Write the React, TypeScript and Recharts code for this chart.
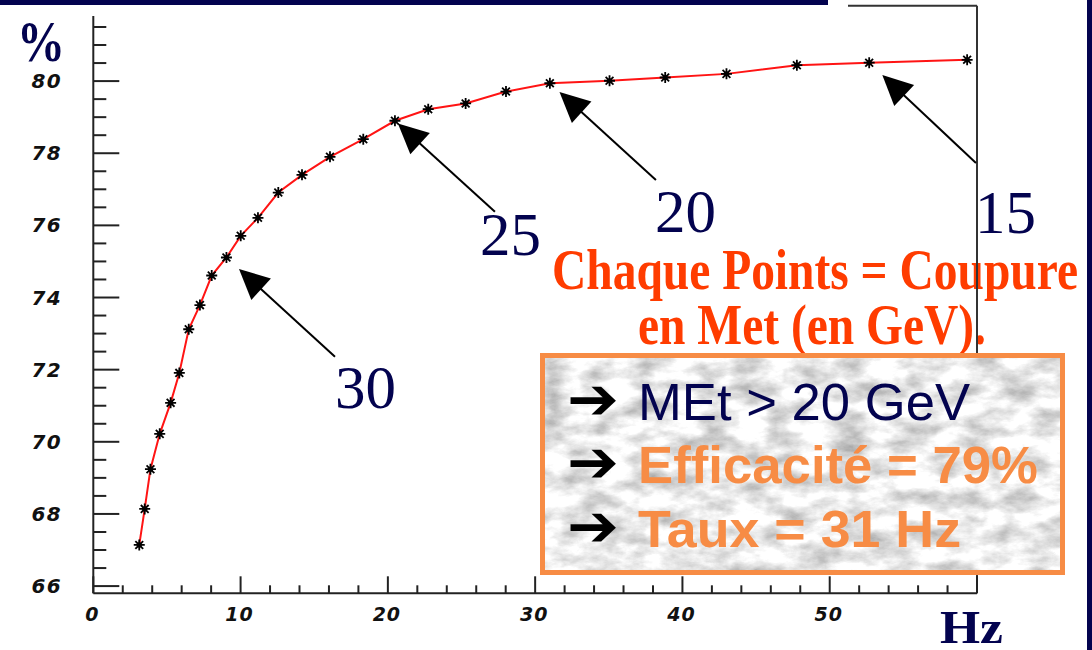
import React from 'react';
import { LineChart, Line, XAxis, YAxis, ReferenceLine } from 'recharts';

// Trigger rate (Hz) and efficiency (%) for each MET cut
const rateHz = [
  3.12, 3.49, 3.88, 4.51, 5.25, 5.84, 6.48, 7.24, 8.04, 9.04, 10.01, 11.18, 12.56, 14.17,
  16.07, 18.33, 20.48, 22.74, 25.28, 28.02, 31.0, 35.05, 38.83, 42.99, 47.77, 52.68, 59.33,
];
const efficiency = [
  67.14, 68.14, 69.24, 70.22, 71.08, 71.91, 73.12, 73.79, 74.61, 75.11, 75.71, 76.21, 76.91, 77.4,
  77.9, 78.39, 78.9, 79.22, 79.38, 79.71, 79.94, 80.01, 80.1, 80.2, 80.44, 80.51, 80.59,
];

// Axis ticks
const xTicks = [0, 2, 4, 6, 8, 10, 12, 14, 16, 18, 20, 22, 24, 26, 28, 30, 32, 34, 36, 38, 40, 42, 44, 46, 48, 50, 52, 54, 56, 58, 60];
const yTicks = [
  66, 66.5, 67, 67.5, 68, 68.5, 69, 69.5, 70, 70.5, 71, 71.5, 72, 72.5, 73, 73.5, 74, 74.5, 75, 75.5,
  76, 76.5, 77, 77.5, 78, 78.5, 79, 79.5, 80, 80.5, 81, 81.5, 82,
];
const X_DOMAIN: [number, number] = [0, 60];
const Y_DOMAIN: [number, number] = [65.8, 82.09];

// Annotated cuts (GeV) and the point each arrow targets
const cutLabels = ['30', '25', '20', '15'];
const cutPointIndex = [9, 16, 20, 25];
const arrowTailRate = [16.41, 27.27, 38.2, 59.93];
const arrowTailEff = [72.36, 76.38, 77.26, 77.73];
const arrowGap = [17, 4, 13, 18];
const cutLabelPos = [
  { x: 335, y: 408 },
  { x: 480, y: 255 },
  { x: 655, y: 232 },
  { x: 975, y: 233 },
];

const data = rateHz.map((r, i) => ({ rate: r, eff: efficiency[i] }));

const NAVY = '#03034f';
const ORANGE = '#f78c45';
const RED_TEXT = '#ff3c00';
const AXIS = '#222';

const StarDot = (props: any) => {
  const { cx, cy, index } = props;
  if (cx == null || cy == null) return null;
  const r = 5.5;
  const d = 3.9;
  return (
    <g key={`dot-${index}`} stroke="#000" strokeWidth={1.8}>
      <line x1={cx - r} y1={cy} x2={cx + r} y2={cy} />
      <line x1={cx} y1={cy - r} x2={cx} y2={cy + r} />
      <line x1={cx - d} y1={cy - d} x2={cx + d} y2={cy + d} />
      <line x1={cx - d} y1={cy + d} x2={cx + d} y2={cy - d} />
      <circle cx={cx} cy={cy} r={2.6} fill="#000" stroke="none" />
    </g>
  );
};

const tickFont = {
  fontFamily: '"DejaVu Sans", sans-serif',
  fontWeight: 700,
  fontStyle: 'italic' as const,
  fill: '#111',
};

const YTick = (props: any) => {
  const { x, y, payload } = props;
  const v = Number(payload.value);
  const major = Math.abs(v % 2) < 1e-6;
  return (
    <g>
      <line x1={x} y1={y} x2={x + (major ? 26 : 13)} y2={y} stroke={AXIS} strokeWidth={2} />
      {major && v < 82 && (
        <text x={x - 31} y={y + 7} textAnchor="end" letterSpacing={1.5} fontSize={20} {...tickFont}>
          {v}
        </text>
      )}
    </g>
  );
};

const XTick = (props: any) => {
  const { x, y, payload } = props;
  const v = Number(payload.value);
  const major = v % 10 === 0;
  return (
    <g>
      <line x1={x} y1={y} x2={x} y2={y - (major ? 17 : 8)} stroke={AXIS} strokeWidth={2} />
      {major && v < 60 && (
        <text x={x - 1} y={y + 28} textAnchor="middle" letterSpacing={1} fontSize={19} {...tickFont}>
          {v}
        </text>
      )}
    </g>
  );
};

// Arrow from the label towards a data point, stopping a little short of it
const makeArrow = (gap: number) => (p: any) => {
  const { x1, y1, x2, y2 } = p;
  const dx = x2 - x1;
  const dy = y2 - y1;
  const len = Math.sqrt(dx * dx + dy * dy) || 1;
  const ux = dx / len;
  const uy = dy / len;
  const tipX = x2 - ux * gap;
  const tipY = y2 - uy * gap;
  const headLen = 30;
  const headHalf = 14.5;
  const bx = tipX - ux * headLen;
  const by = tipY - uy * headLen;
  const nx = -uy;
  const ny = ux;
  return (
    <g>
      <line x1={x1} y1={y1} x2={bx + ux * 4} y2={by + uy * 4} stroke="#000" strokeWidth={2} />
      <polygon
        points={`${tipX},${tipY} ${bx + nx * headHalf},${by + ny * headHalf} ${bx - nx * headHalf},${by - ny * headHalf}`}
        fill="#000"
      />
    </g>
  );
};

const serif = '"Liberation Serif", "Times New Roman", serif';
const sans = '"Liberation Sans", Arial, sans-serif';

const BoxRow = ({ y, text, color, bold, length }: { y: number; text: string; color: string; bold: boolean; length: number }) => (
  <g>
    <text
      x={567}
      y={y - 1}
      fontFamily='"DejaVu Sans", sans-serif'
      fontSize={58}
      fontWeight={700}
      fill="#000"
      textLength={52}
      lengthAdjust="spacingAndGlyphs"
    >
      ➔
    </text>
    <text
      x={638}
      y={y}
      fontFamily={sans}
      fontSize={52}
      fontWeight={bold ? 700 : 400}
      fill={color}
      textLength={length}
      lengthAdjust="spacingAndGlyphs"
    >
      {text}
    </text>
  </g>
);

export default function App() {
  return (
    <div style={{ position: 'absolute', left: 0, top: 0, width: 1092, height: 650, background: '#fff', overflow: 'hidden' }}>
      {/* caption behind the plot frame */}
      <svg width={1092} height={650} style={{ position: 'absolute', left: 0, top: 0 }}>
        <text x={552} y={289} fontFamily={serif} fontWeight={700} fontSize={58} fill={RED_TEXT} textLength={526} lengthAdjust="spacingAndGlyphs">
          Chaque Points = Coupure
        </text>
        <text x={638} y={344} fontFamily={serif} fontWeight={700} fontSize={58} fill={RED_TEXT} textLength={348} lengthAdjust="spacingAndGlyphs">
          en Met (en GeV).
        </text>
      </svg>

      <div style={{ position: 'absolute', left: 0, top: 0 }}>
        <LineChart width={1092} height={650} data={data} margin={{ top: 5.7, right: 115, bottom: 0, left: 0 }}>
          <XAxis
            type="number"
            dataKey="rate"
            domain={X_DOMAIN}
            ticks={xTicks}
            interval={0}
            allowDataOverflow
            height={56.7}
            tickSize={0}
            tickMargin={0}
            tickLine={false}
            axisLine={{ stroke: AXIS, strokeWidth: 2 }}
            tick={<XTick />}
          />
          <YAxis
            type="number"
            domain={Y_DOMAIN}
            ticks={yTicks}
            interval={0}
            allowDataOverflow
            width={93.3}
            tickSize={0}
            tickMargin={0}
            tickLine={false}
            axisLine={{ stroke: AXIS, strokeWidth: 2 }}
            tick={<YTick />}
          />
          <ReferenceLine x={X_DOMAIN[1]} stroke="#333" strokeWidth={2} ifOverflow="visible" />
          <ReferenceLine y={Y_DOMAIN[1]} stroke="#333" strokeWidth={2} ifOverflow="visible" />
          <Line
            type="linear"
            dataKey="eff"
            stroke="#ff1414"
            strokeWidth={2}
            dot={StarDot}
            isAnimationActive={false}
          />
          {cutPointIndex.map((idx, i) => (
            <ReferenceLine
              key={`arrow-${cutLabels[i]}`}
              segment={[
                { x: arrowTailRate[i], y: arrowTailEff[i] },
                { x: rateHz[idx], y: efficiency[idx] },
              ]}
              ifOverflow="visible"
              shape={makeArrow(arrowGap[i])}
            />
          ))}
        </LineChart>
      </div>

      <svg width={1092} height={650} style={{ position: 'absolute', left: 0, top: 0, pointerEvents: 'none' }}>
        <defs>
          <filter id="marble" x="0%" y="0%" width="100%" height="100%" colorInterpolationFilters="sRGB">
            <feTurbulence type="fractalNoise" baseFrequency="0.03 0.055" numOctaves={5} seed={11} result="noise" />
            <feColorMatrix
              in="noise"
              type="matrix"
              values="0.6 0 0 0 0.62  0.6 0 0 0 0.62  0.6 0 0 0 0.62  0 0 0 0 1"
            />
          </filter>
        </defs>

        {/* slide frame pieces */}
        <rect x={0} y={0} width={848} height={16} fill="#fff" />
        <rect x={0} y={0} width={828} height={5} fill={NAVY} />
        <rect x={1087} y={0} width={5} height={650} fill={NAVY} />

        {/* axis titles */}
        <text x={17} y={61} fontFamily={serif} fontWeight={700} fontSize={56} fill={NAVY} textLength={48} lengthAdjust="spacingAndGlyphs">
          %
        </text>
        <text x={940} y={643} fontFamily={serif} fontWeight={700} fontSize={46} fill={NAVY} textLength={63} lengthAdjust="spacingAndGlyphs">
          Hz
        </text>

        {/* cut values next to arrows */}
        {cutLabels.map((t, i) => (
          <text
            key={`cut-${t}`}
            x={cutLabelPos[i].x}
            y={cutLabelPos[i].y}
            fontFamily={serif}
            fontSize={62}
            fill={NAVY}
            textLength={61}
            lengthAdjust="spacingAndGlyphs"
          >
            {t}
          </text>
        ))}

        {/* summary box */}
        <rect x={545} y={358} width={515} height={212} filter="url(#marble)" fill="#e4e4e4" />
        <rect x={542.5} y={355.5} width={520} height={217} fill="none" stroke={ORANGE} strokeWidth={5} />
        <BoxRow y={420} text="MEt > 20 GeV" color={NAVY} bold={false} length={332} />
        <BoxRow y={483} text="Efficacité = 79%" color={ORANGE} bold={true} length={400} />
        <BoxRow y={547} text="Taux = 31 Hz" color={ORANGE} bold={true} length={323} />
      </svg>
    </div>
  );
}
